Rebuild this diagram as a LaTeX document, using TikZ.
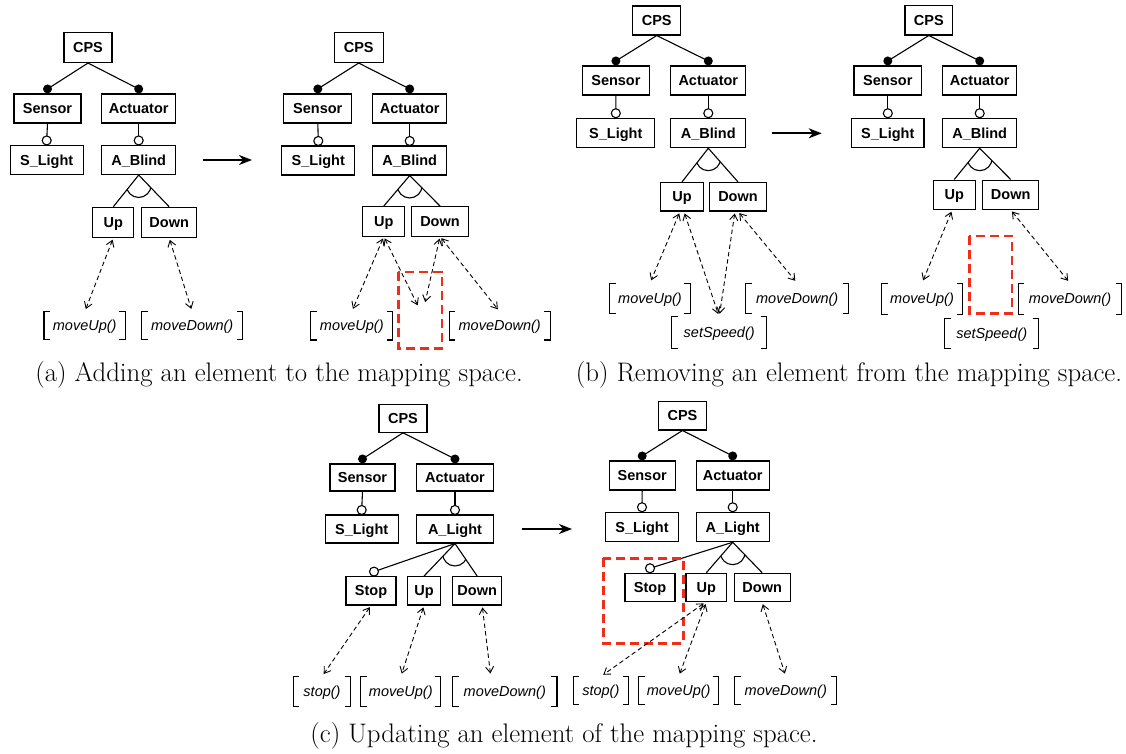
\documentclass[tikz,border=0pt]{standalone}
\usepackage{fontspec}
\setsansfont{Liberation Sans}
\usetikzlibrary{arrows.meta,calc}
\definecolor{redd}{RGB}{240,45,25}
\tikzset{
  ln/.style={line width=1.1pt},
  fb/.style={draw, line width=1.1pt, inner sep=0pt, font=\sffamily\bfseries\fontsize{14.5}{16}\selectfont, text height=12pt, text depth=2pt},
  mb/.style={inner sep=0pt, font=\sffamily\itshape\fontsize{14.5}{16}\selectfont, text height=12pt, text depth=2pt},
  dar/.style={line width=0.9pt, dash pattern=on 4.5pt off 3pt, shorten >=3pt, shorten <=2pt,
    {Straight Barb[length=6pt,width=8pt]}-{Straight Barb[length=6pt,width=8pt]}},
  bigar/.style={line width=2pt, -{Stealth[length=13pt,width=10pt,inset=4pt]}},
  redbox/.style={draw=redd, line width=2.4pt, dash pattern=on 9pt off 5pt},
  captxt/.style={inner sep=0pt, font=\fontsize{26.8}{31}\selectfont}
}
\newcommand{\brk}[1]{\draw[ln] ([xshift=6pt]#1.north west) -| (#1.south west) -- ([xshift=6pt]#1.south west);
  \draw[ln] ([xshift=-6pt]#1.north east) -| (#1.south east) -- ([xshift=-6pt]#1.south east);}
\newcommand{\fbx}[6]{\node[fb,minimum width=#3,minimum height=#4] (#1) at (#5,#6) {#2};}
\newcommand{\mbx}[6]{\node[mb,minimum width=#3,minimum height=#4] (#1) at (#5,#6) {#2};\brk{#1}}
\newcommand{\mandl}[2]{\draw[ln] (#1.south) -- ([yshift=4.5pt]#2.north);
  \fill ([yshift=4.5pt]#2.north) circle[radius=4.5pt];}
\newcommand{\optl}[2]{\draw[ln] (#1.south) -- ([yshift=4.5pt]#2.north);
  \draw[ln,fill=white] ([yshift=4.5pt]#2.north) circle[radius=4.5pt];}
\newcommand{\altg}[3]{\draw[ln] (#2.north) -- (#1.south) -- (#3.north);
  \begin{scope}\clip (#1.south) -- (#2.north) -- (#3.north) -- cycle;
  \draw[ln] ([yshift=-10pt]#1.south) circle[radius=12.4pt];\end{scope}}
\begin{document}
\begin{tikzpicture}[x=1pt,y=-1pt]
\useasboundingbox (0,0) rectangle (1126,753);
% ---------------- (a) left
\fbx{Acps}{CPS}{48}{30}{88}{47.5}
\fbx{Asen}{Sensor}{67}{29}{47.5}{108.5}
\fbx{Aact}{Actuator}{74}{29}{138.7}{108.5}
\fbx{Asl}{S\_Light}{73}{29}{46.7}{160}
\fbx{Abl}{A\_Blind}{74}{29}{138.7}{160}
\fbx{Aup}{Up}{41}{30}{113.3}{222.3}
\fbx{Adn}{Down}{55}{30}{169.2}{222.3}
\mbx{Amu}{moveUp()}{81}{27}{84.7}{325.5}
\mbx{Amd}{moveDown()}{101}{27}{192.2}{325.5}
\mandl{Acps}{Asen}\mandl{Acps}{Aact}
\optl{Asen}{Asl}\optl{Aact}{Abl}
\altg{Abl}{Aup}{Adn}
\draw[dar] (Aup.south) -- (Amu.north);
\draw[dar] (Adn.south) -- (Amd.north);
\coordinate (a1) at (203,160); \coordinate (a2) at (252,160);
\draw[bigar] (a1) -- (a2);
% ---------------- (a) right
\fbx{Bcps}{CPS}{49}{30}{358.7}{47.5}
\fbx{Bsen}{Sensor}{68}{29}{317.8}{108.5}
\fbx{Bact}{Actuator}{74}{29}{409.7}{108.5}
\fbx{Bsl}{S\_Light}{73}{29}{318.3}{160.5}
\fbx{Bbl}{A\_Blind}{74}{29}{409.7}{160.5}
\fbx{Bup}{Up}{42}{29.5}{383.8}{221.3}
\fbx{Bdn}{Down}{56.5}{29.5}{440}{221.3}
\mbx{Bmu}{moveUp()}{81.7}{28}{351.8}{325.8}
\mbx{Bmd}{moveDown()}{100.7}{28}{499.7}{325.8}
\mandl{Bcps}{Bsen}\mandl{Bcps}{Bact}
\optl{Bsen}{Bsl}\optl{Bact}{Bbl}
\altg{Bbl}{Bup}{Bdn}
\draw[redbox] (398.3,271.7) rectangle (441.7,348.3);
\coordinate (Bn1) at (419,308); \coordinate (Bn2) at (424.5,305);
\draw[dar] (Bup.south) -- (Bmu.north);
\draw[dar] (Bup.south) -- (Bn1);
\draw[dar] (Bdn.south) -- (Bn2);
\draw[dar] (Bdn.south) -- (Bmd.north);
% ---------------- (b) left
\fbx{Ccps}{CPS}{48}{29}{656.7}{20.5}
\fbx{Csen}{Sensor}{67}{29}{615.9}{80.5}
\fbx{Cact}{Actuator}{75}{29}{708.3}{80.5}
\fbx{Csl}{S\_Light}{78}{29.4}{615.8}{133}
\fbx{Cbl}{A\_Blind}{75}{29.4}{708.3}{133}
\fbx{Cup}{Up}{42.6}{28.5}{682}{196.7}
\fbx{Cdn}{Down}{57.4}{28.5}{738}{196.7}
\mbx{Cmu}{moveUp()}{80}{30}{650}{298.3}
\mbx{Cmd}{moveDown()}{102.3}{30}{797.2}{298.3}
\mbx{Css}{setSpeed()}{95}{31}{719.2}{332.5}
\mandl{Ccps}{Csen}\mandl{Ccps}{Cact}
\optl{Csen}{Csl}\optl{Cact}{Cbl}
\altg{Cbl}{Cup}{Cdn}
\draw[dar] ([xshift=-2pt]Cup.south) -- (Cmu.north);
\draw[dar] ([xshift=2pt]Cup.south) -- (Css.north);
\draw[dar] ([xshift=-3pt]Cdn.south) -- (Css.north);
\draw[dar] (Cdn.south) -- (Cmd.north);
\coordinate (b1) at (771.7,133.3); \coordinate (b2) at (821.7,133.3);
\draw[bigar] (b1) -- (b2);
% ---------------- (b) right
\fbx{Dcps}{CPS}{47.7}{29.3}{928.8}{20.3}
\fbx{Dsen}{Sensor}{67.7}{29}{887.8}{80.5}
\fbx{Dact}{Actuator}{74}{29}{979.7}{80.5}
\fbx{Dsl}{S\_Light}{72.3}{29.4}{887.8}{133}
\fbx{Dbl}{A\_Blind}{74}{29.4}{979.7}{133}
\fbx{Dup}{Up}{41.7}{29.3}{954.2}{194.7}
\fbx{Ddn}{Down}{56}{29.3}{1010.7}{194.7}
\mbx{Dmu}{moveUp()}{80.6}{30.7}{922}{298.7}
\mbx{Dmd}{moveDown()}{103.4}{30.7}{1070}{298.7}
\mbx{Dss}{setSpeed()}{93.3}{30}{991.7}{333.3}
\mandl{Dcps}{Dsen}\mandl{Dcps}{Dact}
\optl{Dsen}{Dsl}\optl{Dact}{Dbl}
\altg{Dbl}{Dup}{Ddn}
\draw[redbox] (969.3,236) rectangle (1011.7,313.3);
\draw[dar] ([xshift=-2pt]Dup.south) -- (Dmu.north);
\draw[dar] (Ddn.south) -- (Dmd.north);
% ---------------- (c) left
\fbx{Ecps}{CPS}{48}{27.5}{403}{418.5}
\fbx{Esen}{Sensor}{65}{27}{362.5}{477.5}
\fbx{Eact}{Actuator}{76.6}{27}{455}{477.5}
\fbx{Esl}{S\_Light}{73.3}{28}{361.7}{529}
\fbx{Eli}{A\_Light}{76.6}{28}{455}{529}
\fbx{Est}{Stop}{50}{28.3}{371}{590.8}
\fbx{Eup}{Up}{33.4}{28.3}{424}{590.8}
\fbx{Edn}{Down}{49}{28.3}{477.2}{590.8}
\mbx{Esm}{stop()}{57.4}{30}{322}{691.7}
\mbx{Emu}{moveUp()}{79.7}{30}{400.8}{691.7}
\mbx{Emd}{moveDown()}{104}{30}{504.8}{691.7}
\mandl{Ecps}{Esen}\mandl{Ecps}{Eact}
\optl{Esen}{Esl}\optl{Eact}{Eli}
\draw[ln] (Eli.south) -- ([xshift=3pt,yshift=4.5pt]Est.north);
\draw[ln,fill=white] ([xshift=3pt,yshift=4.5pt]Est.north) circle[radius=4.5pt];
\altg{Eli}{Eup}{Edn}
\draw[dar] (Est.south) -- (Esm.north);
\draw[dar] (Eup.south) -- (Emu.north);
\draw[dar] ([xshift=5pt]Edn.south) -- ([xshift=-14pt]Emd.north);
\coordinate (c1) at (522,529); \coordinate (c2) at (572,529);
\draw[bigar] (c1) -- (c2);
% ---------------- (c) right
\fbx{Fcps}{CPS}{48.4}{28.3}{682.5}{415.8}
\fbx{Fsen}{Sensor}{65.7}{29}{642.2}{475.5}
\fbx{Fact}{Actuator}{73.3}{29}{732.7}{475.5}
\fbx{Fsl}{S\_Light}{72.6}{29.4}{642}{527}
\fbx{Fli}{A\_Light}{73.3}{29.4}{732.7}{527}
\fbx{Fst}{Stop}{50}{28.4}{650}{587.5}
\fbx{Fup}{Up}{40.7}{28.4}{706.3}{587.5}
\fbx{Fdn}{Down}{55.7}{28.4}{762.2}{587.5}
\mbx{Fsm}{stop()}{55}{27.6}{600.8}{690.5}
\mbx{Fmu}{moveUp()}{79.3}{27.6}{678.7}{690.5}
\mbx{Fmd}{moveDown()}{101.7}{27.6}{785.8}{690.5}
\mandl{Fcps}{Fsen}\mandl{Fcps}{Fact}
\optl{Fsen}{Fsl}\optl{Fact}{Fli}
\optl{Fli}{Fst}
\altg{Fli}{Fup}{Fdn}
\draw[redbox] (603.3,558.3) rectangle (683.3,643.3);
\draw[dar] ([xshift=-1pt]Fup.south) -- (Fsm.north);
\draw[dar] (Fup.south) -- (Fmu.north);
\draw[dar] (Fdn.south) -- (Fmd.north);
% ---------------- captions
\node[captxt] (capa) at (279,375) {(a) Adding an element to the mapping space.};
\node[captxt] (capb) at (849,375) {(b) Removing an element from the mapping space.};
\node[captxt] (capc) at (564,736) {(c) Updating an element of the mapping space.};
\end{tikzpicture}
\end{document}
